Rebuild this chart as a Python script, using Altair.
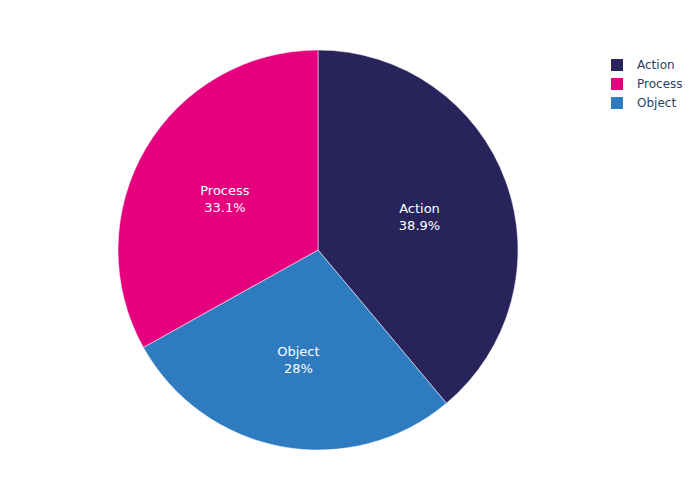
import altair as alt
import pandas as pd

categories = ["Action", "Object", "Process"]
shares = [38.9, 28.0, 33.1]
share_labels = ["38.9%", "28%", "33.1%"]
legend_order = ["Action", "Process", "Object"]
colors = ["#29235c", "#e6007e", "#2f7bbf"]

df = pd.DataFrame({
    "category": categories,
    "share": shares,
    "rank": list(range(len(categories))),
    "label": [f"{c}\n{s}" for c, s in zip(categories, share_labels)],
})

base = alt.Chart(df).encode(
    theta=alt.Theta("share:Q", stack=True),
    order=alt.Order("rank:Q"),
)

pie = base.mark_arc(outerRadius=200, stroke="white", strokeWidth=0.5).encode(
    color=alt.Color(
        "category:N",
        scale=alt.Scale(domain=legend_order, range=colors),
        legend=alt.Legend(
            title=None,
            orient="none",
            legendX=603,
            legendY=51,
            symbolType="square",
            symbolSize=144,
            symbolStrokeWidth=0,
            labelFont="DejaVu Sans",
            labelFontSize=12,
            labelColor="#2a3f5f",
            labelOffset=14,
            rowPadding=7,
        ),
    )
)

text = base.mark_text(
    radius=108,
    dy=-4,
    font="DejaVu Sans",
    fontSize=13,
    color="white",
    lineBreak="\n",
    lineHeight=17,
    baseline="middle",
    align="center",
).encode(text="label:N")

chart = (pie + text).properties(
    width=620, height=484, padding=0
).configure_view(stroke=None)

chart.save("out.html", embed_options={"renderer": "svg", "actions": False})
